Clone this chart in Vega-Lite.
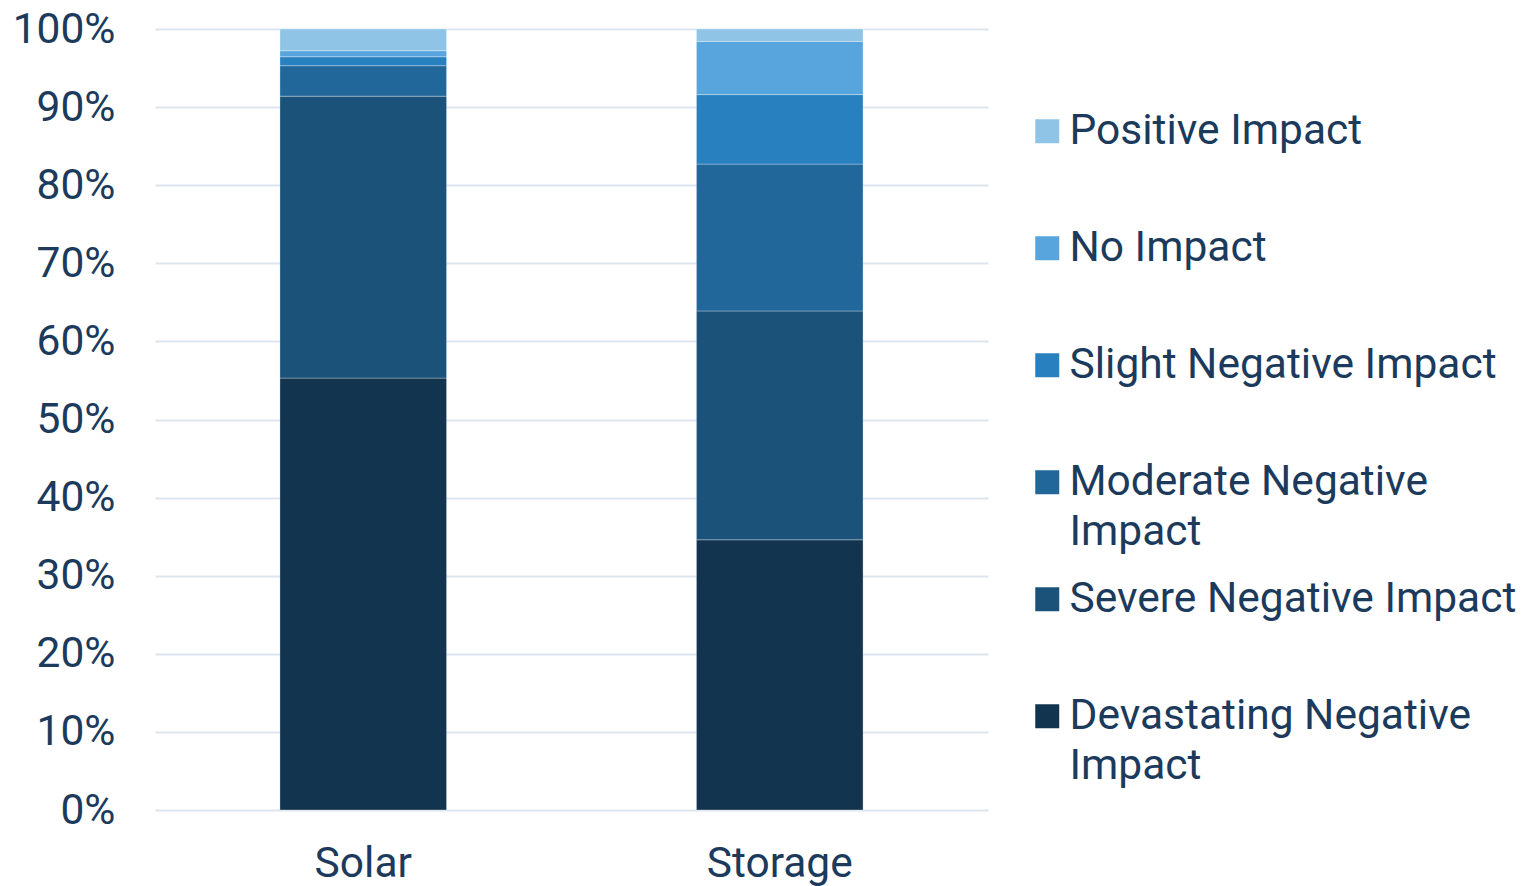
{
  "$schema": "https://vega.github.io/schema/vega-lite/v6.json",
  "width": 833,
  "height": 781,
  "autosize": {"type": "none"},
  "padding": {"left": 155, "top": 29, "right": 534, "bottom": 76},
  "background": "#ffffff",
  "data": {
    "values": [
      {"category": "Solar", "impact": "Devastating Negative Impact", "rank": 1, "share": 55.3},
      {"category": "Solar", "impact": "Severe Negative Impact", "rank": 2, "share": 36.1},
      {"category": "Solar", "impact": "Moderate Negative Impact", "rank": 3, "share": 3.9},
      {"category": "Solar", "impact": "Slight Negative Impact", "rank": 4, "share": 1.15},
      {"category": "Solar", "impact": "No Impact", "rank": 5, "share": 0.77},
      {"category": "Solar", "impact": "Positive Impact", "rank": 6, "share": 2.78},
      {"category": "Storage", "impact": "Devastating Negative Impact", "rank": 1, "share": 34.6},
      {"category": "Storage", "impact": "Severe Negative Impact", "rank": 2, "share": 29.3},
      {"category": "Storage", "impact": "Moderate Negative Impact", "rank": 3, "share": 18.8},
      {"category": "Storage", "impact": "Slight Negative Impact", "rank": 4, "share": 8.9},
      {"category": "Storage", "impact": "No Impact", "rank": 5, "share": 6.8},
      {"category": "Storage", "impact": "Positive Impact", "rank": 6, "share": 1.6}
    ]
  },
  "mark": {"type": "bar", "stroke": "#ffffff", "strokeOpacity": 0.3, "strokeWidth": 1},
  "encoding": {
    "x": {
      "field": "category",
      "type": "nominal",
      "sort": ["Solar", "Storage"],
      "scale": {"paddingInner": 0.6, "paddingOuter": 0.3},
      "axis": {"title": null, "labelAngle": 0, "domain": false, "ticks": false, "labelFontSize": 42.5, "labelFont": "Roboto", "labelColor": "#1b3a5c", "labelPadding": 32}
    },
    "y": {
      "field": "share",
      "type": "quantitative",
      "stack": "normalize",
      "scale": {"domain": [0, 1], "nice": false},
      "axis": {"title": null, "format": ".0%", "values": [0, 0.1, 0.2, 0.3, 0.4, 0.5, 0.6, 0.7, 0.8, 0.9, 1], "domain": false, "ticks": false, "labelFontSize": 42.5, "labelFont": "Roboto", "labelColor": "#1b3a5c", "labelPadding": 40, "gridColor": "#dde6f0", "gridWidth": 2}
    },
    "order": {"field": "rank", "type": "quantitative", "sort": "ascending"},
    "color": {
      "field": "impact",
      "type": "nominal",
      "scale": {
        "domain": ["Positive Impact", "No Impact", "Slight Negative Impact", "Moderate Negative Impact", "Severe Negative Impact", "Devastating Negative Impact"],
        "range": ["#8fc4e6", "#57a5dc", "#2880bf", "#21679a", "#1b5279", "#12344f"]
      },
      "legend": {
        "title": null,
        "orient": "none",
        "legendX": 871,
        "legendY": 81,
        "symbolType": "square",
        "symbolSize": 576,
        "symbolStrokeWidth": 0,
        "labelFontSize": 42.5,
        "labelFont": "Roboto",
        "labelColor": "#1b3a5c",
        "labelOffset": 1,
        "labelLimit": 600,
        "gridAlign": "all",
        "rowPadding": 24,
        "labelExpr": "datum.label == 'Moderate Negative Impact' ? ['Moderate Negative', 'Impact'] : datum.label == 'Devastating Negative Impact' ? ['Devastating Negative', 'Impact'] : datum.label",
        "encode": {"labels": {"enter": {"lineHeight": {"value": 50}}, "update": {"lineHeight": {"value": 50}}}}
      }
    }
  },
  "config": {"view": {"stroke": null}, "style": {"guide-label": {"lineHeight": 50}}}
}
